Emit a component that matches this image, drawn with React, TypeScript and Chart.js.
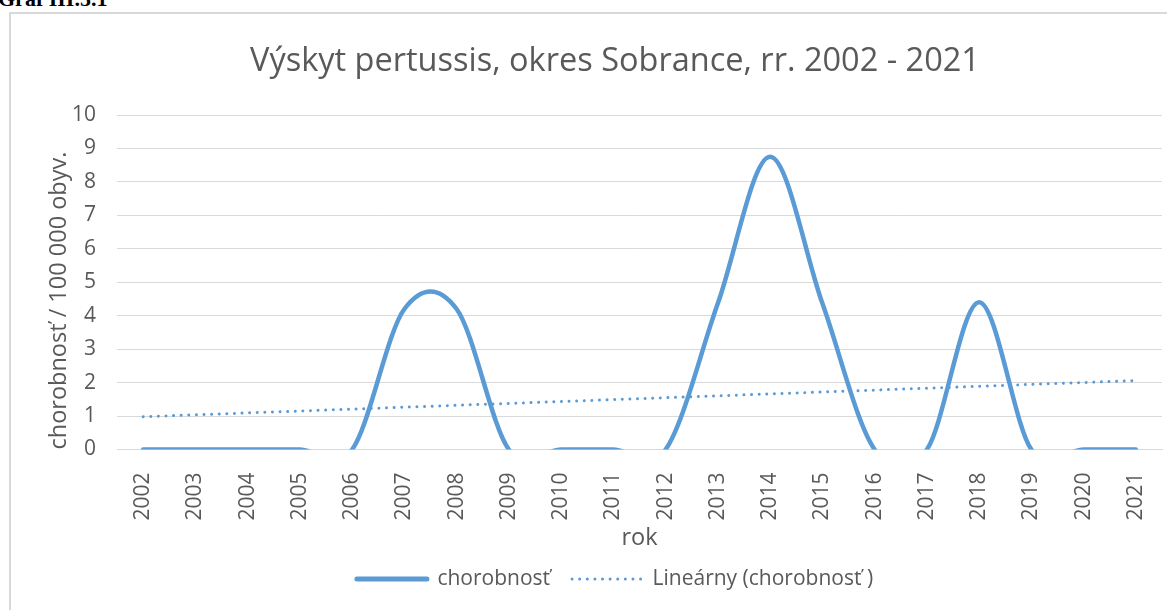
import React, { useEffect, useRef } from "react";
import { Chart, registerables } from "chart.js";

Chart.register(...registerables);

// ---- data ----
const years = [
  "2002", "2003", "2004", "2005", "2006", "2007", "2008", "2009", "2010", "2011",
  "2012", "2013", "2014", "2015", "2016", "2017", "2018", "2019", "2020", "2021",
];
const morbidity = [0, 0, 0, 0, 0, 4.2, 4.2, 0, 0, 0, 0, 4.37, 8.75, 4.37, 0, 0, 4.4, 0, 0, 0];
const trend = [
  0.98, null, null, null, null, null, null, null, null, null,
  null, null, null, null, null, null, null, null, null, 2.06,
];
const seriesLabel = "chorobnosť";
const trendLabel = "Lineárny (chorobnosť )";
const chartTitle = "Výskyt pertussis, okres Sobrance, rr. 2002 - 2021";
const xTitle = "rok";
const yTitle = "chorobnosť / 100 000 obyv.";
const captionText = "Graf III.5.1";

// ---- styles ----
const W = 1230;
const H = 610;
const FONT = "'Open Sans', sans-serif";
const GRAY = "#595959";
const GRID = "#d9d9d9";
const BLUE = "#5B9BD5";

// Excel-like smoothing: uniform Catmull-Rom control points on the library's own point positions
const excelSmooth = {
  id: "excelSmooth",
  beforeDatasetDraw(chart: any, args: any) {
    if (args.index !== 0) return;
    const meta = args.meta;
    meta.dataset.updateControlPoints(chart.chartArea, "x");
    const pts = meta.data;
    const n = pts.length;
    for (let i = 0; i < n; i++) {
      const prev = pts[Math.max(i - 1, 0)];
      const next = pts[Math.min(i + 1, n - 1)];
      const cur = pts[i];
      const dx = (next.x - prev.x) / 6;
      const dy = (next.y - prev.y) / 6;
      cur.cp1x = cur.x - dx;
      cur.cp1y = cur.y - dy;
      cur.cp2x = cur.x + dx;
      cur.cp2y = cur.y + dy;
    }
  },
};

export default function App() {
  const ref = useRef<HTMLCanvasElement | null>(null);

  useEffect(() => {
    if (!ref.current) return;
    const chart = new Chart(ref.current, {
      type: "line",
      data: {
        labels: years,
        datasets: [
          {
            label: seriesLabel,
            data: morbidity,
            borderColor: BLUE,
            backgroundColor: BLUE,
            borderWidth: 4.5,
            tension: 0.5,
            pointRadius: 0,
            pointHoverRadius: 0,
            borderCapStyle: "round",
            borderJoinStyle: "round",
            fill: false,
            yAxisID: "y",
          },
          {
            label: trendLabel,
            data: trend,
            borderColor: BLUE,
            backgroundColor: BLUE,
            borderWidth: 3,
            borderDash: [0.01, 7.6],
            borderCapStyle: "round",
            tension: 0,
            spanGaps: true,
            pointRadius: 0,
            pointHoverRadius: 0,
            fill: false,
            yAxisID: "y",
          },
        ],
      },
      plugins: [excelSmooth],
      options: {
        responsive: false,
        animation: false,
        events: [],
        layout: { padding: { left: 0, right: 0, top: 0, bottom: 10.5 } },
        elements: { line: { capBezierPoints: false } },
        plugins: {
          title: {
            display: true,
            text: chartTitle,
            color: GRAY,
            font: { family: FONT, size: 32.5, weight: "normal" },
            padding: { top: 41.8, bottom: 34.2 },
          },
          legend: {
            position: "bottom",
            labels: {
              usePointStyle: true,
              pointStyleWidth: 70,
              color: GRAY,
              padding: 22,
              font: { family: FONT, size: 21 },
              generateLabels: (c: any) => [
                {
                  text: c.data.datasets[0].label,
                  fillStyle: BLUE,
                  strokeStyle: BLUE,
                  lineWidth: 5,
                  lineCap: "round",
                  lineDash: [],
                  pointStyle: "line",
                  fontColor: GRAY,
                  hidden: false,
                  datasetIndex: 0,
                },
                {
                  text: c.data.datasets[1].label,
                  fillStyle: BLUE,
                  strokeStyle: BLUE,
                  lineWidth: 3,
                  lineCap: "round",
                  lineDash: [0.01, 7.6],
                  pointStyle: "line",
                  fontColor: GRAY,
                  hidden: false,
                  datasetIndex: 1,
                },
              ],
            },
          },
          tooltip: { enabled: false },
        },
        scales: {
          x: {
            type: "category",
            offset: true,
            grid: { display: false },
            border: { display: true, color: GRID, width: 1 },
            ticks: {
              color: GRAY,
              font: { family: FONT, size: 21 },
              minRotation: 90,
              maxRotation: 90,
              autoSkip: false,
              padding: 15,
            },
            title: {
              display: true,
              text: xTitle,
              color: GRAY,
              font: { family: FONT, size: 23.5, lineHeight: 1 },
              padding: { top: 0, bottom: -4 },
            },
            afterFit: (s: any) => {
              s.height = 97;
            },
          },
          y: {
            position: "left",
            min: 0,
            max: 10,
            ticks: {
              stepSize: 1,
              color: GRAY,
              font: { family: FONT, size: 21 },
              padding: 21,
            },
            grid: { color: GRID, lineWidth: 1, drawTicks: false },
            border: { display: false },
            title: {
              display: true,
              text: yTitle,
              align: "start",
              color: GRAY,
              font: { family: FONT, size: 23.5 },
              padding: { top: 45, bottom: 0 },
            },
            afterFit: (s: any) => {
              s.width = 117;
            },
          },
          yRight: {
            position: "right",
            display: true,
            min: 0,
            max: 1,
            grid: { display: false, drawTicks: false },
            border: { display: false },
            ticks: { display: false },
            afterFit: (s: any) => {
              s.width = W - 1162;
            },
          },
        },
      },
    } as any);
    return () => chart.destroy();
  }, []);

  return (
    <div
      style={{
        position: "fixed",
        left: 0,
        top: 0,
        width: 1167,
        height: 610,
        overflow: "hidden",
        background: "#ffffff",
      }}
    >
      <div
        style={{
          position: "absolute",
          left: -2,
          top: -12,
          fontFamily: "'Liberation Serif', 'Times New Roman', serif",
          fontWeight: "bold",
          fontSize: 22,
          lineHeight: "22px",
          color: "#000",
          whiteSpace: "nowrap",
        }}
      >
        {captionText}
      </div>
      <div
        style={{
          position: "absolute",
          left: 9,
          top: 12,
          width: 1300,
          height: 700,
          borderLeft: "2px solid #d9d9d9",
          borderTop: "2px solid #d9d9d9",
        }}
      />
      <canvas
        ref={ref}
        width={W}
        height={H}
        style={{ position: "absolute", left: 0, top: 0, width: W, height: H }}
      />
    </div>
  );
}
